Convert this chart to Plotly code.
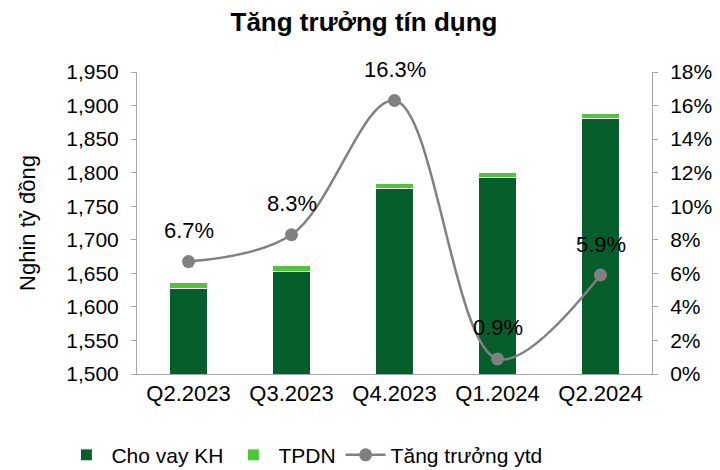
import plotly.graph_objects as go

categories = ["Q2.2023", "Q3.2023", "Q4.2023", "Q1.2024", "Q2.2024"]
cho_vay = [1628, 1652, 1777, 1793, 1881]
tpdn = [9, 9, 7, 7, 7]
ytd_growth = [6.7, 8.3, 16.3, 0.9, 5.9]
left_ticks = list(range(1500, 1951, 50))
right_ticks = list(range(0, 19, 2))
right_tick_text = [f"{v}%" for v in right_ticks]

FONT = "Liberation Sans, Arial, sans-serif"
DARK = "#075E2D"
LIGHT = "#4DC63A"
GREY = "#808080"
AXIS = "#A6A6A6"

fig = go.Figure()
fig.add_trace(go.Bar(x=categories, y=cho_vay, name="Cho vay KH",
                     marker=dict(color=DARK, line=dict(color="white", width=1))))
fig.add_trace(go.Bar(x=categories, y=tpdn, name="TPDN",
                     marker=dict(color=LIGHT, line=dict(color="white", width=1))))
fig.add_trace(go.Scatter(x=categories, y=ytd_growth, name="Tăng trưởng ytd", yaxis="y2",
                         mode="lines+markers",
                         line=dict(color=GREY, width=2.5, shape="spline", smoothing=1.0),
                         marker=dict(color=GREY, size=13)))

for c, v in zip(categories, ytd_growth):
    fig.add_annotation(x=c, y=v, yref="y2", text=f"{v:.1f}%", showarrow=False,
                       yshift=31, font=dict(size=22, color="black", family=FONT))

fig.update_layout(
    width=712, height=462,
    barmode="stack", bargap=0.63,
    plot_bgcolor="white", paper_bgcolor="white",
    font=dict(family=FONT, size=21, color="black"),
    title=dict(text="<b>Tăng trưởng tín dụng</b>", x=0.5, xanchor="center",
               y=0.970, yanchor="middle", font=dict(size=26, family=FONT)),
    margin=dict(l=129, r=68, t=64, b=96, autoexpand=False),
    xaxis=dict(showline=True, linecolor=AXIS, linewidth=1, ticks="",
               tickfont=dict(size=22)),
    yaxis=dict(range=[1500, 1950], tickvals=left_ticks, tickformat=",",
               showgrid=False, showline=True, linecolor=AXIS, linewidth=1,
               ticks="outside", ticklen=5, tickcolor=AXIS, ticklabelstandoff=8,
               title=dict(text="Nghin tỷ đồng", font=dict(size=22), standoff=24),
               tickfont=dict(size=21)),
    yaxis2=dict(range=[0, 18], tickvals=right_ticks, ticktext=right_tick_text,
                overlaying="y", side="right", showgrid=False, showline=True,
                linecolor=AXIS, linewidth=1, ticks="outside", ticklen=5,
                tickcolor=AXIS, ticklabelstandoff=8, tickfont=dict(size=21),
                zeroline=False),
    legend=dict(orientation="h", xref="container", x=0.075, xanchor="left",
                yref="container", y=0.032, yanchor="middle", font=dict(size=21),
                traceorder="normal", itemwidth=40),
)

fig.write_html("out.html")
